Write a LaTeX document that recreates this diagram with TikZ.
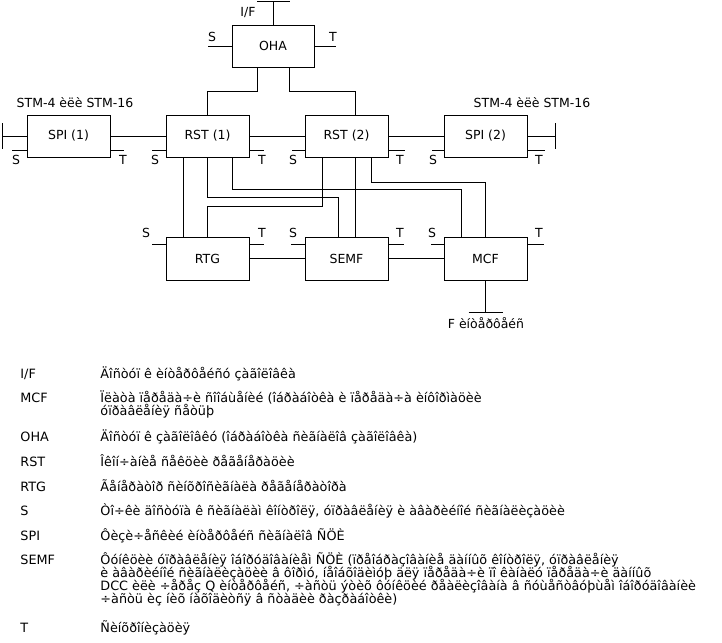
\documentclass[tikz,border=0pt]{standalone}
\usepackage{fontspec}
\setmainfont{DejaVu Sans}
\usetikzlibrary{positioning, calc}
\newcommand{\diagfont}{\fontsize{12.5}{14}\selectfont}
\newcommand{\legfont}{\fontsize{12.8}{13}\selectfont}

\begin{document}
\begin{tikzpicture}[x=1pt, y=-1pt, line width=0.9pt,
    blk/.style={draw, minimum width=83pt, minimum height=42pt, inner sep=0pt, font=\diagfont},
    lbl/.style={inner sep=0pt, font=\diagfont},
    leg/.style={anchor=base west, inner sep=0pt, font=\legfont}]

    \useasboundingbox (0,0) rectangle (722,642);

    \draw(273,46) node[blk, minimum width=82pt] (oha) {OHA};
    \draw(68.5,136) node[blk] (spia) {SPI (1)};
    \draw(207.5,136) node[blk] (rsta) {RST (1)};
    \draw(346.5,136) node[blk] (rstb) {RST (2)};
    \draw(485.5,136) node[blk] (spib) {SPI (2)};
    \draw(207.5,258.5) node[blk, minimum height=43pt] (rtg) {RTG};
    \draw(346.5,258.5) node[blk, minimum height=43pt] (semf) {SEMF};
    \draw(485.5,258.5) node[blk, minimum height=43pt] (mcf) {MCF};

    \draw(75,103) node[lbl] (stma) {STM-4 èëè STM-16};
    \draw(532,103) node[lbl] (stmb) {STM-4 èëè STM-16};
    \draw(248,13) node[lbl] (ifl) {I/F};
    \draw(212,37) node[lbl] (ohas) {S};
    \draw(333,37) node[lbl] (ohat) {T};
    \draw(486,323) node[lbl] (fl) {F èíòåðôåéñ};

    \draw(16,160) node[lbl] (spias) {S};
    \draw(123,160) node[lbl] (spiat) {T};
    \draw(155,160) node[lbl] (rstas) {S};
    \draw(262,160) node[lbl] (rstat) {T};
    \draw(293,160) node[lbl] (rstbs) {S};
    \draw(400,160) node[lbl] (rstbt) {T};
    \draw(433,160) node[lbl] (spibs) {S};
    \draw(539,160) node[lbl] (spibt) {T};
    \draw(146,233) node[lbl] (rtgs) {S};
    \draw(262,233) node[lbl] (rtgt) {T};
    \draw(293,233) node[lbl] (semfs) {S};
    \draw(400,233) node[lbl] (semft) {T};
    \draw(432,233) node[lbl] (mcfs) {S};
    \draw(539,233) node[lbl] (mcft) {T};

    \coordinate (ifp) at (273,1);
    \coordinate (inl) at (2,136);
    \coordinate (outr) at (555,136);
    \coordinate (fp) at (485.5,312);

    \draw (oha.north) -- (ifp);
    \draw ([xshift=-16pt]ifp) -- ([xshift=17pt]ifp);
    \draw (oha.west) -- ++(-24,0);
    \draw (oha.east) -- ++(22,0);
    \draw ([xshift=-16pt]oha.south) -- ++(0,24) -| (rsta.north);
    \draw ([xshift=16pt]oha.south) -- ++(0,24) -| ([xshift=8.5pt]rstb.north);

    \draw (spia) -- (rsta);
    \draw (rsta) -- (rstb);
    \draw (rstb) -- (spib);
    \draw (rtg) -- (semf);
    \draw (semf) -- (mcf);

    \draw (spia.west) -- (inl);
    \draw ([yshift=13pt]inl) -- ([yshift=-13pt]inl);
    \draw (spib.east) -- (outr);
    \draw ([yshift=13pt]outr) -- ([yshift=-13pt]outr);
    \draw (mcf.south) -- (fp);
    \draw ([xshift=-17pt]fp) -- ([xshift=17pt]fp);

    \draw ([yshift=7pt]spia.south west) -- ++(-15,0);
    \draw ([yshift=7pt]spia.south east) -- ++(14,0);
    \draw ([yshift=7pt]rsta.south west) -- ++(-14,0);
    \draw ([yshift=7pt]rsta.south east) -- ++(15,0);
    \draw ([yshift=7pt]rstb.south west) -- ++(-13,0);
    \draw ([yshift=7pt]rstb.south east) -- ++(17,0);
    \draw ([yshift=7pt]spib.south west) -- ++(-12,0);
    \draw ([yshift=7pt]spib.south east) -- ++(18,0);
    \draw ([yshift=-8pt]rtg.north west) -- ++(-14,0);
    \draw ([yshift=-8pt]rtg.north east) -- ++(15,0);
    \draw ([yshift=-8pt]semf.north west) -- ++(-14,0);
    \draw ([yshift=-8pt]semf.north east) -- ++(16,0);
    \draw ([yshift=-8pt]mcf.north west) -- ++(-13,0);
    \draw ([yshift=-8pt]mcf.north east) -- ++(17,0);

    \draw ([xshift=-24.5pt]rsta.south) -- ([xshift=-24.5pt]rtg.north);
    \draw (rsta.south) -- ++(0,40) -| ([xshift=-8pt]semf.north);
    \draw ([xshift=24.5pt]rsta.south) -- ++(0,32) -| ([xshift=-24.5pt]mcf.north);
    \draw ([xshift=-24.5pt]rstb.south) -- ++(0,49) -| (rtg.north);
    \draw ([xshift=8.5pt]rstb.south) -- ([xshift=8.5pt]semf.north);
    \draw ([xshift=24.5pt]rstb.south) -- ++(0,25) -| (mcf.north);

    \draw(20,378) node[leg] (kif) {I/F};
    \draw(100,378) node[leg] (dif) {Äîñòóï ê èíòåðôåéñó çàãîëîâêà};
    \draw(20,402) node[leg] (kmcf) {MCF};
    \draw(100,402) node[leg] (dmcfa) {Ïëàòà ïåðåäà÷è ñîîáùåíèé (îáðàáîòêà è ïåðåäà÷à èíôîðìàöèè};
    \draw(100,415) node[leg] (dmcfb) {óïðàâëåíèÿ ñåòüþ};
    \draw(20,441) node[leg] (koha) {OHA};
    \draw(100,441) node[leg] (doha) {Äîñòóï ê çàãîëîâêó (îáðàáîòêà ñèãíàëîâ çàãîëîâêà)};
    \draw(20,466) node[leg] (krst) {RST};
    \draw(100,466) node[leg] (drst) {Îêîí÷àíèå ñåêöèè ðåãåíåðàöèè};
    \draw(20,491) node[leg] (krtg) {RTG};
    \draw(100,491) node[leg] (drtg) {Ãåíåðàòîð ñèíõðîñèãíàëà ðåãåíåðàòîðà};
    \draw(20,515) node[leg] (ks) {S};
    \draw(100,515) node[leg] (ds) {Òî÷êè äîñòóïà ê ñèãíàëàì êîíòðîëÿ, óïðàâëåíèÿ è àâàðèéíîé ñèãíàëèçàöèè};
    \draw(20,540) node[leg] (kspi) {SPI};
    \draw(100,540) node[leg] (dspi) {Ôèçè÷åñêèé èíòåðôåéñ ñèãíàëîâ ÑÖÈ};
    \draw(20,564) node[leg] (ksemf) {SEMF};
    \draw(100,564) node[leg] (dsemfa) {Ôóíêöèè óïðàâëåíèÿ îáîðóäîâàíèåì ÑÖÈ (ïðåîáðàçîâàíèå äàííûõ êîíòðîëÿ, óïðàâëåíèÿ};
    \draw(100,577) node[leg] (dsemfb) {è àâàðèéíîé ñèãíàëèçàöèè â ôîðìó, íåîáõîäèìóþ äëÿ ïåðåäà÷è ïî êàíàëó ïåðåäà÷è äàííûõ};
    \draw(100,590) node[leg] (dsemfc) {DCC èëè ÷åðåç Q èíòåðôåéñ, ÷àñòü ýòèõ ôóíêöèé ðåàëèçîâàíà â ñóùåñòâóþùåì îáîðóäîâàíèè};
    \draw(100,603) node[leg] (dsemfd) {÷àñòü èç íèõ íàõîäèòñÿ â ñòàäèè ðàçðàáîòêè)};
    \draw(20,632) node[leg] (kt) {T};
    \draw(100,632) node[leg] (dt) {Ñèíõðîíèçàöèÿ};

\end{tikzpicture}
\end{document}
